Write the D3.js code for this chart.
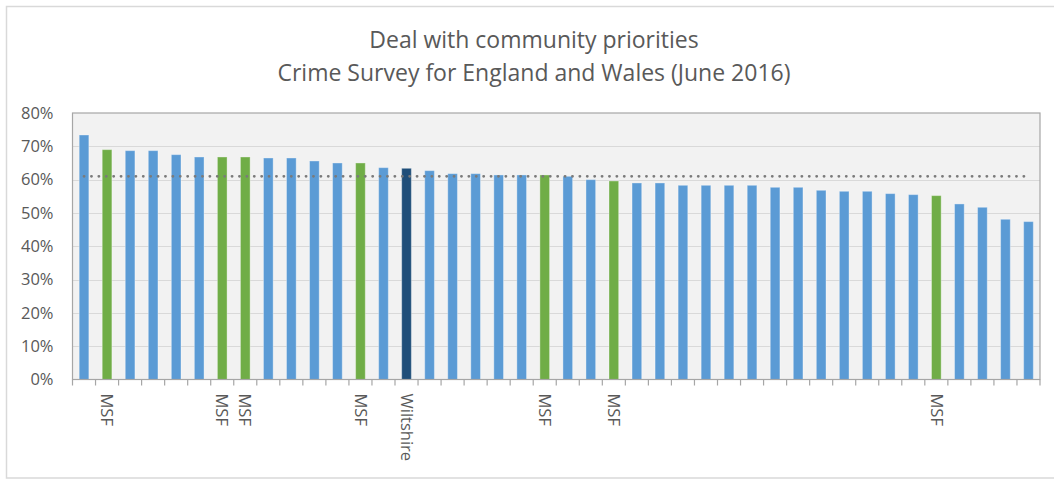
<!DOCTYPE html>
<html>
<head>
<meta charset="utf-8">
<script src="https://cdn.jsdelivr.net/npm/d3@7"></script>
<style>
  html, body { margin: 0; padding: 0; background: #fff; }
  svg { display: block; }
  text { font-family: "Open Sans", "Noto Sans", sans-serif; fill: #595959; }
</style>
</head>
<body>
<svg id="chart" width="1054" height="479"></svg>
<script>
// ---- data ----
const titleLines = ["Deal with community priorities", "Crime Survey for England and Wales (June 2016)"];
const categories = ["", "MSF", "", "", "", "", "MSF", "MSF", "", "", "", "", "MSF", "", "Wiltshire",
  "", "", "", "", "", "MSF", "", "", "MSF", "", "", "", "", "", "",
  "", "", "", "", "", "", "", "MSF", "", "", "", ""];
const values = [73.4, 69.0, 68.7, 68.7, 67.5, 66.8, 66.8, 66.8, 66.5, 66.5,
  65.6, 65.0, 65.0, 63.6, 63.4, 62.7, 61.8, 61.8, 61.4, 61.4,
  61.4, 61.0, 60.0, 59.6, 59.0, 59.0, 58.3, 58.3, 58.3, 58.3,
  57.7, 57.7, 56.8, 56.5, 56.5, 55.8, 55.5, 55.2, 52.7, 51.7,
  48.1, 47.4];
const groups = ["force", "msf", "force", "force", "force", "force", "msf", "msf", "force", "force",
  "force", "force", "msf", "force", "wiltshire", "force", "force", "force", "force", "force",
  "msf", "force", "force", "msf", "force", "force", "force", "force", "force", "force",
  "force", "force", "force", "force", "force", "force", "force", "msf", "force", "force",
  "force", "force"];
const averageValue = 61.0;
const yTicks = [0, 10, 20, 30, 40, 50, 60, 70, 80];

// ---- layout ----
const svg = d3.select("#chart");
const margin = { left: 72.5, right: 1040, top: 113, bottom: 379.5 };
const colors = { force: "#5b9bd5", msf: "#70ad47", wiltshire: "#1f4e79" };

// outer chart border
svg.append("rect")
  .attr("x", 6.5).attr("y", 6.5)
  .attr("width", 1060).attr("height", 471.5)
  .attr("fill", "#fff").attr("stroke", "#d9d9d9").attr("stroke-width", 1.5);

// title
svg.append("g").selectAll("text").data(titleLines).join("text")
  .attr("x", 534).attr("y", (d, i) => 47.5 + i * 33)
  .attr("text-anchor", "middle")
  .style("font-size", "23px")
  .text(d => d);

const x = d3.scaleBand()
  .domain(d3.range(categories.length))
  .range([margin.left, margin.right])
  .paddingInner(0.58).paddingOuter(0.29);

const xTickScale = d3.scaleBand()
  .domain(d3.range(categories.length))
  .range([margin.left, margin.right]);

const y = d3.scaleLinear().domain([0, 80]).range([margin.bottom, margin.top]);

// plot background
svg.append("rect")
  .attr("x", margin.left).attr("y", margin.top)
  .attr("width", margin.right - margin.left).attr("height", margin.bottom - margin.top)
  .attr("fill", "#f2f2f2");

// gridlines
svg.append("g").selectAll("line").data(yTicks.slice(1, -1)).join("line")
  .attr("x1", margin.left).attr("x2", margin.right)
  .attr("y1", d => Math.round(y(d)) + 0.5).attr("y2", d => Math.round(y(d)) + 0.5)
  .attr("stroke", "#d9d9d9").attr("stroke-width", 1);

// bars
svg.append("g").selectAll("rect").data(values).join("rect")
  .attr("x", (d, i) => x(i))
  .attr("width", x.bandwidth())
  .attr("y", d => y(d))
  .attr("height", d => y(0) - y(d))
  .attr("fill", (d, i) => colors[groups[i]])
  .attr("stroke", "rgba(255,255,255,0.35)").attr("stroke-width", 1);

// average dotted line
const avgLine = d3.line()
  .x(d => d[0])
  .y(d => y(d[1]));
svg.append("path")
  .datum([[x(0) + x.bandwidth() / 2, averageValue], [x(categories.length - 1) + x.bandwidth() / 2, averageValue]])
  .attr("d", avgLine)
  .attr("fill", "none")
  .attr("stroke", "#7a7a7a")
  .attr("stroke-width", 2.8)
  .attr("stroke-linecap", "round")
  .attr("stroke-dasharray", "0.1 7.3");

// plot border
svg.append("rect")
  .attr("x", margin.left).attr("y", margin.top)
  .attr("width", margin.right - margin.left).attr("height", margin.bottom - margin.top)
  .attr("fill", "none").attr("stroke", "#a6a6a6").attr("stroke-width", 1.2);

// y axis labels
const yAxis = d3.axisLeft(y).tickValues(yTicks).tickSize(0).tickPadding(19)
  .tickFormat(d => d + "%");
const gy = svg.append("g").attr("transform", `translate(${margin.left},0)`).call(yAxis);
gy.select(".domain").remove();
gy.selectAll("text").style("font-size", "16.5px").attr("fill", "#595959").attr("font-family", null);

// x axis ticks at category boundaries
const boundaries = d3.range(categories.length + 1);
svg.append("g").selectAll("line").data(boundaries).join("line")
  .attr("x1", d => (d < categories.length ? xTickScale(d) : margin.right))
  .attr("x2", d => (d < categories.length ? xTickScale(d) : margin.right))
  .attr("y1", margin.bottom).attr("y2", margin.bottom + 6)
  .attr("stroke", "#a6a6a6").attr("stroke-width", 1.2);

// x axis labels (rotated)
const xAxis = d3.axisBottom(x).tickSize(0).tickFormat(i => categories[i]);
const gx = svg.append("g").attr("transform", `translate(0,${margin.bottom})`).call(xAxis);
gx.select(".domain").remove();
gx.selectAll("text")
  .style("font-size", "16.5px").attr("fill", "#595959").attr("font-family", null)
  .attr("text-anchor", "start")
  .attr("dy", "0.35em")
  .attr("transform", "translate(0,14) rotate(90)")
  .attr("x", 0).attr("y", 0);
</script>
</body>
</html>
